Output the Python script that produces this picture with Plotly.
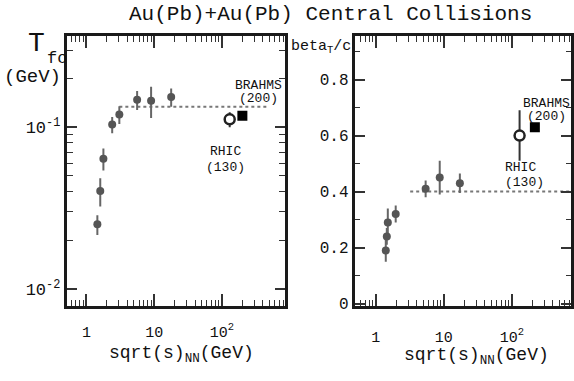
import plotly.graph_objects as go

# Left panel: freeze-out temperature
t_x = [1.45, 1.6, 1.78, 2.4, 3.06, 5.6, 9.0, 17.8]
t_y = [0.0251, 0.0404, 0.064, 0.104, 0.120, 0.148, 0.146, 0.154]
t_err = [0.0035, 0.008, 0.010, 0.012, 0.015, 0.020, 0.032, 0.020]
t_rhic_x, t_rhic_y, t_rhic_err = [130], [0.112], [0.012]
t_brahms_x, t_brahms_y = [200], [0.118]
t_plateau_x, t_plateau_y = [3.06, 490], [0.134, 0.134]

# Right panel: transverse flow velocity
b_x = [1.4, 1.45, 1.5, 1.96, 5.4, 8.7, 17.2]
b_y = [0.19, 0.24, 0.29, 0.32, 0.41, 0.45, 0.43]
b_err = [0.04, 0.03, 0.05, 0.03, 0.03, 0.06, 0.035]
b_rhic_x, b_rhic_y, b_rhic_err = [130], [0.60], [0.09]
b_brahms_x, b_brahms_y = [218], [0.63]
b_plateau_x, b_plateau_y = [3.2, 800], [0.40, 0.40]

W, H = 574, 381
def px(x): return x / W
def py(y): return 1 - y / H

MONO = "Liberation Mono"
PT = "#555555"

fig = go.Figure()

def add_panel(xa, ya, x, y, err, rx, ry, rerr, bx, by, plx, ply):
    fig.add_trace(go.Scatter(x=plx, y=ply, mode="lines", xaxis=xa, yaxis=ya,
                             line=dict(color="#777777", width=2, dash="dot"), showlegend=False))
    fig.add_trace(go.Scatter(x=x, y=y, mode="markers", xaxis=xa, yaxis=ya,
                             marker=dict(color=PT, size=8, symbol="circle"),
                             error_y=dict(type="data", array=err, color="#666666", thickness=2, width=0),
                             showlegend=False))
    fig.add_trace(go.Scatter(x=rx, y=ry, mode="markers", xaxis=xa, yaxis=ya,
                             marker=dict(color="white", size=10, symbol="circle",
                                         line=dict(color="#222222", width=2.5)),
                             error_y=dict(type="data", array=rerr, color="#333333", thickness=2, width=0),
                             showlegend=False))
    fig.add_trace(go.Scatter(x=bx, y=by, mode="markers", xaxis=xa, yaxis=ya,
                             marker=dict(color="black", size=10, symbol="square"),
                             showlegend=False))

add_panel("x", "y", t_x, t_y, t_err, t_rhic_x, t_rhic_y, t_rhic_err,
          t_brahms_x, t_brahms_y, t_plateau_x, t_plateau_y)
add_panel("x2", "y2", b_x, b_y, b_err, b_rhic_x, b_rhic_y, b_rhic_err,
          b_brahms_x, b_brahms_y, b_plateau_x, b_plateau_y)

axis_common = dict(showline=True, linewidth=3, linecolor="#1a1a1a", mirror="allticks",
                   ticks="inside", tickcolor="#333333", showgrid=False, zeroline=False,
                   tickfont=dict(family=MONO, size=15, color="#111111"))

xcommon = dict(axis_common, type="log", tickvals=[1, 10, 100],
               ticktext=["1", "10", "10<sup>2</sup>"], ticklen=12, tickwidth=1.5,
               minor=dict(ticks="inside", ticklen=6, tickcolor="#333333", tickwidth=1,
                          tickvals=[0.6, 0.7, 0.8, 0.9, 2, 3, 4, 5, 6, 7, 8, 9,
                                    20, 30, 40, 50, 60, 70, 80, 90,
                                    200, 300, 400, 500, 600, 700, 800]))

fig.update_layout(
    width=W, height=H, margin=dict(l=0, r=0, t=0, b=0),
    paper_bgcolor="white", plot_bgcolor="white",
    xaxis=dict(xcommon, domain=[px(67), px(286)], range=[-0.29, 2.93], anchor="y",
               ticklabelstandoff=10),
    yaxis=dict(axis_common, type="log", domain=[py(313), py(37)], range=[-2.103, -0.436],
               anchor="x", tickvals=[0.01, 0.1], ticktext=["10<sup>-2</sup>", "10<sup>-1</sup>"],
               ticklen=10, tickwidth=1.5, tickfont=dict(family=MONO, size=17, color="#111111"),
               minor=dict(ticks="inside", ticklen=6, tickcolor="#333333", tickwidth=1,
                          tickvals=[0.02, 0.03, 0.04, 0.05, 0.06, 0.07, 0.08, 0.09, 0.2, 0.3])),
    xaxis2=dict(xcommon, domain=[px(356), px(573)], range=[-0.31, 2.87], anchor="y2",
                ticklabelstandoff=15),
    yaxis2=dict(axis_common, domain=[py(313), py(37)], range=[-0.007, 0.955], anchor="x2",
                tickvals=[0, 0.2, 0.4, 0.6, 0.8], ticktext=["0", "0.2", "0.4", "0.6", "0.8"],
                ticklen=10, tickwidth=1.5, tickfont=dict(family=MONO, size=16, color="#111111"),
                minor=dict(ticks="inside", ticklen=5, tickcolor="#333333", tickwidth=1,
                           tickvals=[0.1, 0.3, 0.5, 0.7, 0.9])),
)

ann = []
def A(x, y, text, size, xanchor="center", yanchor="middle"):
    ann.append(dict(x=px(x), y=py(y), xref="paper", yref="paper", text=text, showarrow=False,
                    xanchor=xanchor, yanchor=yanchor,
                    font=dict(family=MONO, size=size, color="#111111")))

A(332, 15, "Au(Pb)+Au(Pb) Central Collisions", 21)
A(37, 45, "T", 28)
A(57, 60, "fo", 17)
A(33, 79, "(GeV)", 19)
A(322, 48, "beta<sub>T</sub>/c", 15)
A(182, 363, "sqrt(s)<sub>NN</sub>(GeV)", 18)
A(478, 365, "sqrt(s)<sub>NN</sub>(GeV)", 18)
A(259, 88, "BRAHMS", 13)
A(259, 101, "(200)", 13)
A(226, 155, "RHIC", 13)
A(226, 172, "(130)", 13)
A(548, 106, "BRAHMS", 13)
A(548, 119, "(200)", 13)
A(522, 172, "RHIC", 13)
A(526, 187, "(130)", 13)
fig.update_layout(annotations=ann)

fig.write_html("out.html")
